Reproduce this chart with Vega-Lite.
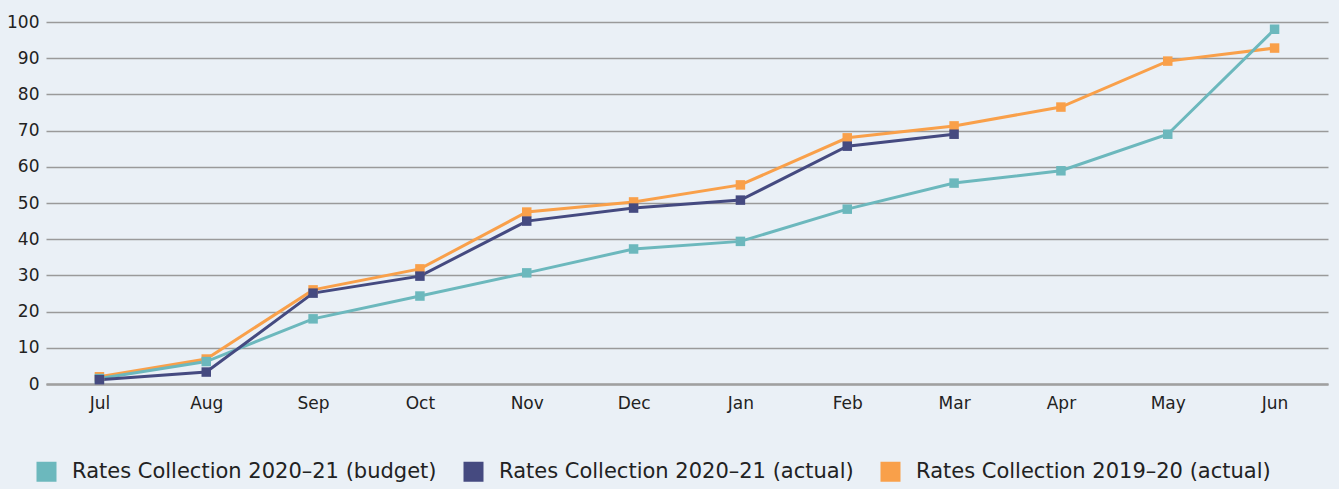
{
  "$schema": "https://vega.github.io/schema/vega-lite/v6.json",
  "width": 1282,
  "height": 362,
  "autosize": {"type": "none"},
  "padding": {"left": 46, "top": 22, "right": 11, "bottom": 105},
  "background": "#eaf0f6",
  "config": {
    "view": {"stroke": null},
    "font": "DejaVu Sans",
    "axis": {"labelFont": "DejaVu Sans", "labelColor": "#222222"},
    "legend": {"labelFont": "DejaVu Sans"}
  },
  "data": {
    "values": [
      {"month": "Jul", "series": "Rates Collection 2019–20 (actual)", "value": 2},
      {"month": "Aug", "series": "Rates Collection 2019–20 (actual)", "value": 6.9},
      {"month": "Sep", "series": "Rates Collection 2019–20 (actual)", "value": 26},
      {"month": "Oct", "series": "Rates Collection 2019–20 (actual)", "value": 31.8},
      {"month": "Nov", "series": "Rates Collection 2019–20 (actual)", "value": 47.5},
      {"month": "Dec", "series": "Rates Collection 2019–20 (actual)", "value": 50.3},
      {"month": "Jan", "series": "Rates Collection 2019–20 (actual)", "value": 55},
      {"month": "Feb", "series": "Rates Collection 2019–20 (actual)", "value": 68},
      {"month": "Mar", "series": "Rates Collection 2019–20 (actual)", "value": 71.3},
      {"month": "Apr", "series": "Rates Collection 2019–20 (actual)", "value": 76.5},
      {"month": "May", "series": "Rates Collection 2019–20 (actual)", "value": 89.2},
      {"month": "Jun", "series": "Rates Collection 2019–20 (actual)", "value": 92.8},
      {"month": "Jul", "series": "Rates Collection 2020–21 (budget)", "value": 1.5},
      {"month": "Aug", "series": "Rates Collection 2020–21 (budget)", "value": 6.2},
      {"month": "Sep", "series": "Rates Collection 2020–21 (budget)", "value": 18},
      {"month": "Oct", "series": "Rates Collection 2020–21 (budget)", "value": 24.3},
      {"month": "Nov", "series": "Rates Collection 2020–21 (budget)", "value": 30.7},
      {"month": "Dec", "series": "Rates Collection 2020–21 (budget)", "value": 37.3},
      {"month": "Jan", "series": "Rates Collection 2020–21 (budget)", "value": 39.4},
      {"month": "Feb", "series": "Rates Collection 2020–21 (budget)", "value": 48.3},
      {"month": "Mar", "series": "Rates Collection 2020–21 (budget)", "value": 55.5},
      {"month": "Apr", "series": "Rates Collection 2020–21 (budget)", "value": 58.9},
      {"month": "May", "series": "Rates Collection 2020–21 (budget)", "value": 69},
      {"month": "Jun", "series": "Rates Collection 2020–21 (budget)", "value": 98},
      {"month": "Jul", "series": "Rates Collection 2020–21 (actual)", "value": 1.2},
      {"month": "Aug", "series": "Rates Collection 2020–21 (actual)", "value": 3.3},
      {"month": "Sep", "series": "Rates Collection 2020–21 (actual)", "value": 25.1},
      {"month": "Oct", "series": "Rates Collection 2020–21 (actual)", "value": 29.8},
      {"month": "Nov", "series": "Rates Collection 2020–21 (actual)", "value": 45},
      {"month": "Dec", "series": "Rates Collection 2020–21 (actual)", "value": 48.6},
      {"month": "Jan", "series": "Rates Collection 2020–21 (actual)", "value": 50.8},
      {"month": "Feb", "series": "Rates Collection 2020–21 (actual)", "value": 65.7},
      {"month": "Mar", "series": "Rates Collection 2020–21 (actual)", "value": 69}
    ]
  },
  "encoding": {
    "x": {
      "field": "month", "type": "ordinal",
      "sort": ["Jul","Aug","Sep","Oct","Nov","Dec","Jan","Feb","Mar","Apr","May","Jun"],
      "scale": {"type": "point", "padding": 0.5},
      "axis": {"title": null, "labelAngle": 0, "labelFontSize": 17, "labelPadding": 11, "ticks": false, "domain": true, "domainColor": "#a0a0a0", "domainWidth": 2.5, "grid": false}
    },
    "y": {
      "field": "value", "type": "quantitative",
      "scale": {"domain": [0, 100], "nice": false},
      "axis": {"title": null, "values": [0,10,20,30,40,50,60,70,80,90,100], "labelFontSize": 17, "labelPadding": 7, "ticks": false, "domain": false, "gridColor": "#9a9a9a", "gridWidth": 1.5, "gridOpacity": 1}
    },
    "color": {
      "field": "series", "type": "nominal",
      "scale": {
        "domain": ["Rates Collection 2020–21 (budget)", "Rates Collection 2020–21 (actual)", "Rates Collection 2019–20 (actual)"],
        "range": ["#6cb8bd", "#454a80", "#f9a04a"]
      },
      "legend": {
        "title": null, "orient": "none", "direction": "horizontal",
        "legendX": -10, "legendY": 439,
        "symbolType": "square", "symbolSize": 400, "symbolStrokeWidth": 0,
        "labelFontSize": 21, "labelColor": "#222222", "labelOffset": 15, "columnPadding": 26, "labelLimit": 500
      }
    }
  },
  "layer": [
    {"mark": {"type": "line", "strokeWidth": 3}},
    {"mark": {"type": "point", "shape": "square", "filled": true, "size": 90, "opacity": 1}}
  ]
}
